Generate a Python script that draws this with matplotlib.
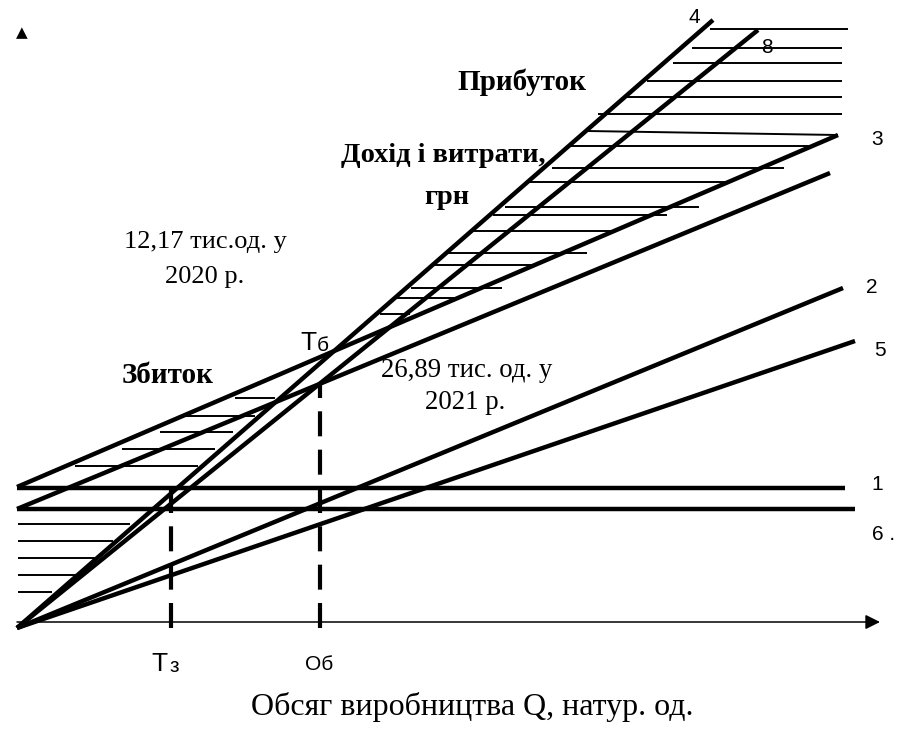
import numpy as np
import matplotlib
matplotlib.use("Agg")
import matplotlib.pyplot as plt

# schematic break-even chart, units: Q along x, UAH along y (origin = 0,0)
line_names = ["1", "6 .", "3", "7", "4", "8", "2", "5"]
line_x0 = [0, 0, 0, 0, 0, 0, 0, 0]
line_y0 = [140, 119, 141, 119, 0, 0, 0, 0]
line_x1 = [828, 838, 821, 813, 696, 741, 826, 838]
line_y1 = [140, 119, 493, 455, 608, 598, 340, 287]

label_x = [860, 867, 860, None, 677, 750, 855, 863]
label_y = [144, 94, 489, None, 611, 581, 341, 278]

# hatching: profit zone
profit_y0 = [599, 580, 565, 547, 531, 514, 497, 482, 460, 446, 421, 413, 397, 375, 363, 340, 330, 314]
profit_y1 = [599, 580, 565, 547, 531, 514, 493, 482, 460, 446, 421, 413, 397, 375, 363, 340, 330, 314]
profit_x0 = [693, 675, 656, 630, 610, 581, 570, 551, 535, 511, 488, 476, 456, 430, 416, 394, 380, 363]
profit_x1 = [831, 825, 825, 825, 825, 825, 821, 795, 767, 713, 682, 650, 597, 570, 518, 485, 441, 393]

# hatching: loss zone
loss_y = [230, 212, 196, 179, 162, 104, 87, 70, 53, 36]
loss_x0 = [218, 168, 143, 105, 58, 1, 1, 1, 1, 1]
loss_x1 = [258, 238, 216, 198, 181, 113, 96, 80, 61, 35]

# break-even points
be_q = [154, 303]
be_level = [140, 244]

serif = ["Liberation Serif", "DejaVu Serif"]
sans = ["Liberation Sans", "DejaVu Sans"]

fig = plt.figure(figsize=(8.98, 7.35), dpi=100)
ax = fig.add_axes([0, 0, 1, 1])
ax.set_xlim(-17, 881)
ax.set_ylim(-107, 628)
ax.axis("off")

# hatching first
for x0, x1, y0, y1 in zip(profit_x0, profit_x1, profit_y0, profit_y1):
    ax.plot([x0, x1], [y0, y1], color="black", lw=1.4, solid_capstyle="butt")
for x0, x1, y in zip(loss_x0, loss_x1, loss_y):
    ax.plot([x0, x1], [y, y], color="black", lw=1.4, solid_capstyle="butt")

# main lines
for i in range(len(line_names)):
    ax.plot([line_x0[i], line_x1[i]], [line_y0[i], line_y1[i]],
            color="black", lw=3.2, solid_capstyle="butt")
    if label_x[i] is not None:
        ax.text(label_x[i], label_y[i], line_names[i], family=sans, fontsize=15,
                ha="center", va="center")

# break-even verticals
for q, lv in zip(be_q, be_level):
    ax.plot([q, q], [0, lv], color="black", lw=3.0, ls=(0, (6, 3.2)), dash_capstyle="butt")

# x axis with arrow
ax.annotate("", xy=(863, 6), xytext=(0, 6),
            arrowprops=dict(arrowstyle="-|>", color="black", lw=1.1,
                            mutation_scale=22, shrinkA=0, shrinkB=0))
ax.text(5, 595, "▲", family=["DejaVu Sans"], fontsize=11, ha="center", va="center")

# texts
ax.text(505, 546, "Прибуток", family=serif, fontsize=21, weight="bold", ha="center", va="center")
ax.text(426, 473, "Дохід і витрати,", family=serif, fontsize=20.5, weight="bold", ha="center", va="center")
ax.text(430, 431, "грн", family=serif, fontsize=20.5, weight="bold", ha="center", va="center")
ax.text(151, 253, "Збиток", family=serif, fontsize=21, weight="bold", ha="center", va="center")

ax.text(188, 386, "12,17 тис.од. у", family=serif, fontsize=19, ha="center", va="center")
ax.text(188, 351, "2020 р.", family=serif, fontsize=19, ha="center", va="center")
ax.text(450, 258, "26,89 тис. од. у", family=serif, fontsize=19.3, ha="center", va="center")
ax.text(448, 226, "2021 р.", family=serif, fontsize=19.3, ha="center", va="center")

ax.text(291, 285, "Т", family=sans, fontsize=19, ha="center", va="center")
ax.text(306, 283, "б", family=sans, fontsize=15, ha="center", va="center")
ax.text(142, -36, "Т", family=sans, fontsize=19, ha="center", va="center")
ax.text(157, -38, "з", family=sans, fontsize=15, ha="center", va="center")
ax.text(302, -37, "Об", family=sans, fontsize=15, ha="center", va="center")

ax.text(455, -79, "Обсяг виробництва Q, натур. од.", family=serif, fontsize=23,
        ha="center", va="center")

fig.savefig("out.png", dpi=100)
